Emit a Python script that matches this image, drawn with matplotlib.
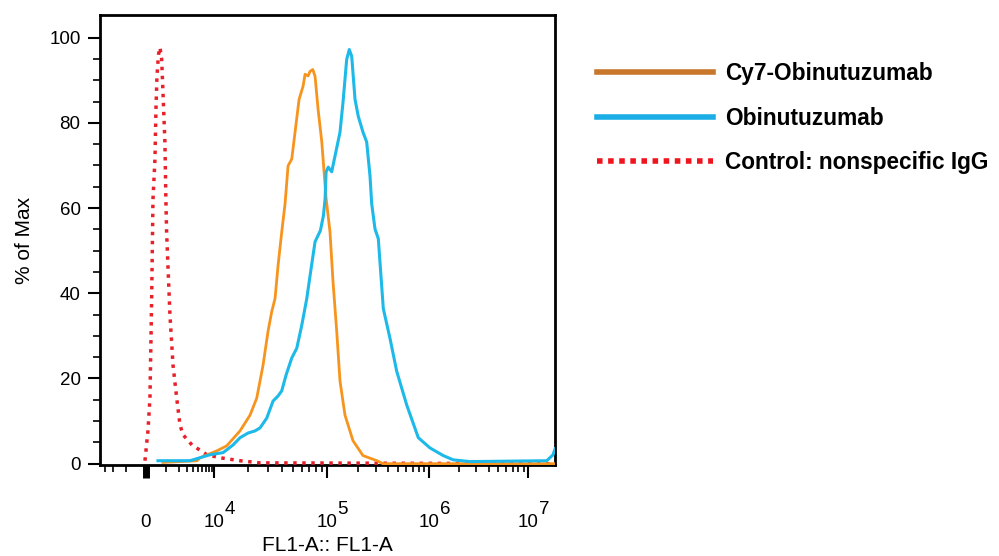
import numpy as np
import matplotlib
matplotlib.use('Agg')
import matplotlib.pyplot as plt
from matplotlib.lines import Line2D

plt.rcParams['font.family'] = ['Liberation Sans', 'DejaVu Sans']

# FL1-A intensity vs % of Max
red_x = [-44, 88, 177, 254, 314, 407, 455, 504,
         580, 658, 749, 822, 936, 996, 1040, 1128,
         1267, 1497, 1810, 2129, 2460, 3735, 7320, 11300,
         17000, 25600, 1.87e7]
red_y = [0.7, 7.7, 15.4, 38.8, 62, 71.5, 83.2, 90.9,
         96, 97.7, 94.9, 87.1, 75.5, 62, 54.4, 46.5,
         34.8, 23.1, 15.4, 9.1, 6.8, 4.4, 2.1, 1.4,
         0.7, 0.2, 0]

orange_x = [822, 4686, 5360, 10570, 12980, 17020, 20870, 23930,
            27200, 30120, 32480, 34750, 36930, 39810, 42580, 45270,
            48800, 52200, 56650, 61450, 64000, 68060, 70900, 74900,
            78450, 83400, 89950, 98000, 107000, 114500, 124500, 134100,
            150100, 179800, 225300, 309100, 354000, 1.87e7]
orange_y = [0.3, 0.7, 1.4, 3.0, 4.2, 7.7, 11.4, 15.4,
            23.1, 31.1, 35.7, 38.8, 46.5, 54.4, 61, 69.9,
            71.5, 77.8, 85.5, 88.6, 91.4, 91.0, 92.1, 92.5,
            90.9, 83.2, 75.5, 62.5, 54.4, 42.8, 31.1, 19.4,
            11.4, 5.4, 1.9, 0.7, 0, 0]

blue_x = [554, 3400, 5360, 8380, 12040, 14760, 17020, 20040,
          23110, 25590, 29330, 33350, 36930, 39810, 43470, 48800,
          54050, 59850, 66300, 70900, 78450, 87400, 92950, 96200,
          98150, 102900, 111200, 119800, 134100, 143500, 156000, 165400,
          174700, 188200, 202700, 225300, 245000, 264000, 274300, 295400,
          318400, 356400, 414600, 482200, 604300, 785300, 1023000, 1394000,
          1760000, 2595000, 15450000, 17890000, 18740000]
blue_y = [0.7, 0.7, 1.4, 2.1, 2.6, 4.4, 6.1, 7.2,
          7.7, 8.4, 10.7, 14.7, 15.9, 17.1, 20.8, 24.8,
          27.1, 32.5, 38.8, 44.2, 52.1, 54.7, 58.2, 62.1,
          68.5, 69.6, 68.5, 72.2, 77.8, 84.8, 94.9, 97.2,
          95.6, 85.5, 81.5, 77.8, 75.5, 67.5, 61, 55.1,
          52.8, 36.4, 29.4, 21.7, 13.8, 6.1, 3.7, 1.9,
          0.9, 0.5, 0.7, 2.1, 3.5]

labels = ['Cy7-Obinutuzumab', 'Obinutuzumab', 'Control: nonspecific IgG']
major_ticks = [0, 1e4, 1e5, 1e6, 1e7]
major_labels = ['0', '10', '10', '10', '10']
exponents = ['', '4', '5', '6', '7']

# biexponential-like display scale, anchored on the decade positions
W = 1000.0
LN10 = np.log(10)
gk = np.arcsinh(np.array([-1e9, 0, 1e4, 1e5, 1e6, 1e7, 1e9]) / W) / LN10
pk = np.array([gk[0] * 52.2, 0, 68, 181, 283, 382, 382 + (gk[6] - gk[5]) * 99])


def fwd(x):
    return np.interp(np.arcsinh(np.asarray(x, float) / W) / LN10, gk, pk)


def inv(p):
    return W * np.sinh(np.interp(np.asarray(p, float), pk, gk) * LN10)


fig = plt.figure(figsize=(9.99, 5.56), dpi=100)
ax = fig.add_axes([0.1001, 0.1637, 0.4555, 0.8093])
ax.set_xscale('function', functions=(fwd, inv))

ax.plot(red_x, red_y, color='#E8202A', lw=2.5, ls=(0, (1, 1.6)), zorder=3)
ax.plot(orange_x, orange_y, color='#F7941E', lw=2.0, zorder=4)
ax.plot(blue_x, blue_y, color='#1DB9E9', lw=2.2, zorder=5)

ax.set_xlim(-3730, 1.874e7)
ax.set_ylim(-0.3, 105.3)

ax.set_xticks(major_ticks)
ax.set_xticklabels(major_labels)
minor = [-3000, -2000, -1000, 1e3]
for d in [1e3, 1e4, 1e5, 1e6]:
    minor += [k * d for k in range(2, 10)]
ax.set_xticks(minor, minor=True)
ax.set_yticks([0, 20, 40, 60, 80, 100])
ax.set_yticks([v for v in range(5, 101, 5) if v % 20], minor=True)

ax.tick_params(axis='x', which='major', length=9, width=1.5, pad=26, labelsize=13.5)
ax.tick_params(axis='x', which='minor', length=5, width=1.2)
ax.tick_params(axis='y', which='major', length=9, width=1.5, labelsize=13.5, pad=5)
ax.tick_params(axis='y', which='minor', length=5, width=1.2)
ax.xaxis.get_major_ticks()[0].tick1line.set_markeredgewidth(5)

# superscripts at full size, as in the reference
for v, e in zip(major_ticks, exponents):
    if e:
        ax.annotate(e, xy=(v, 0), xycoords=('data', 'axes fraction'),
                    xytext=(7.6, -35.5), textcoords='offset points',
                    ha='left', va='baseline', fontsize=13.5)

for s in ax.spines.values():
    s.set_linewidth(2)

ax.set_ylabel('% of Max', fontsize=15, labelpad=11)
ax.set_xlabel('FL1-A:: FL1-A', fontsize=15, labelpad=4)

handles = [Line2D([], [], color='#C8762A', lw=4),
           Line2D([], [], color='#1AADE6', lw=4),
           Line2D([], [], color='#F0141E', lw=4, ls=(0, (1, 1)))]
fig.legend(handles, labels, loc='upper left', bbox_to_anchor=(0.598, 0.888),
           frameon=False, prop={'weight': 'bold', 'size': 16.3},
           handlelength=5.1, handletextpad=0.52, labelspacing=0.95,
           borderaxespad=0, borderpad=0)

fig.savefig('out.png', dpi=100)
